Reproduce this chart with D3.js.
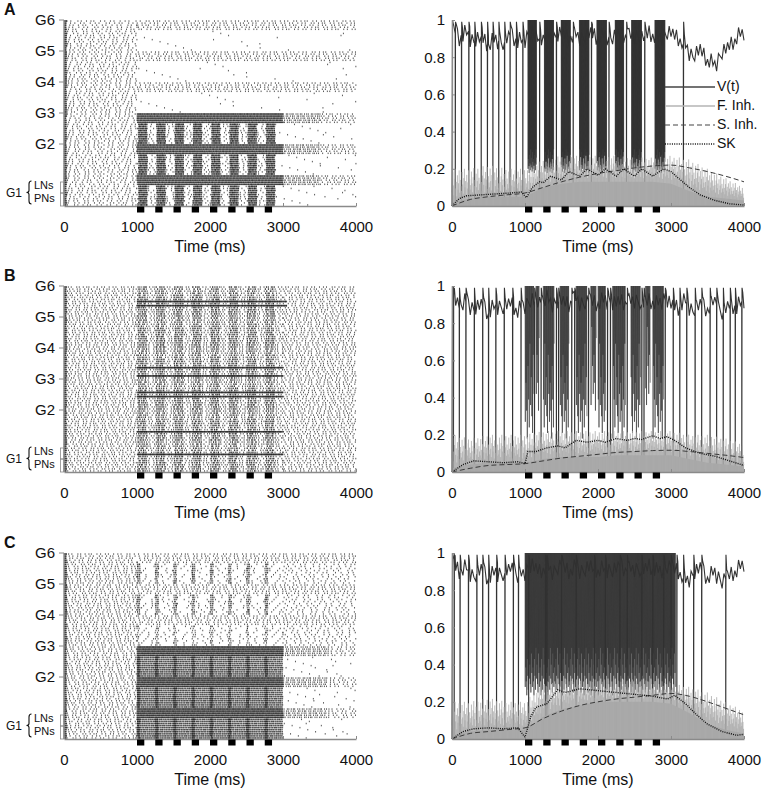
<!DOCTYPE html>
<html>
<head>
<meta charset="utf-8">
<script src="https://cdn.jsdelivr.net/npm/d3@7"></script>
<style>
  body { margin: 0; background: #fff; }
  svg text { font-family: "Liberation Sans", Arial, sans-serif; fill: #111; }
</style>
</head>
<body>
<svg id="fig" width="765" height="794"></svg>
<script>
// ---------- data ----------
var panelNames = ["A", "B", "C"];
var pulseStarts = [1000, 1250, 1500, 1750, 2000, 2250, 2500, 2750];
var pulseLength = 100;
var timeTicks = [0, 1000, 2000, 3000, 4000];
var levelTicks = [0, 0.2, 0.4, 0.6, 0.8, 1];
var groupNames = ["G6", "G5", "G4", "G3", "G2"];
var neuronsPerGroup = 15;   // neurons 0-4 are LNs, 5-14 PNs

var allG = [1, 2, 3, 4, 5, 6], odorG = [1, 2, 3], otherG = [4, 5, 6];

// raster blocks: [groups, first neuron, last neuron, t start, t end, mean ISI (ms)]
var rasterA = [
  [allG, 0, 14, 0, 35, 7],
  [allG, 0, 14, 35, 1000, 65],
  [otherG, 0, 4, 1000, 4000, 55],
  [otherG, 5, 14, 1000, 4000, 1400],
  [odorG, 0, 4, 1000, 3000, 8],
  [odorG, 0, 4, 3000, 3500, 28],
  [odorG, 0, 4, 3500, 4000, 50],
  [odorG, 5, 14, 1000, 2900, 75],
  [odorG, 5, 14, 2900, 4000, 700]
];
var rasterB = [
  [allG, 0, 14, 0, 35, 7],
  [allG, 0, 14, 35, 1000, 50],
  [allG, 0, 14, 1000, 3000, 48],
  [allG, 0, 14, 3000, 4000, 52],
  [[6], 7, 7, 1000, 3050, 7], [[6], 9, 9, 1000, 3050, 7],
  [[4], 9, 9, 1000, 3000, 7], [[4], 13, 13, 1000, 3000, 7],
  [[3], 6, 6, 1000, 3000, 7], [[3], 8, 8, 1000, 3000, 7],
  [[2], 10, 10, 1000, 3000, 7], [[1], 6, 6, 1000, 3000, 7]
];
var rasterC = [
  [allG, 0, 14, 0, 35, 7],
  [allG, 0, 14, 35, 1000, 55],
  [odorG, 0, 4, 1000, 3000, 7],
  [odorG, 0, 4, 3000, 3600, 30],
  [odorG, 0, 4, 3600, 4000, 60],
  [odorG, 5, 14, 1000, 3000, 12],
  [odorG, 5, 14, 3000, 4000, 500],
  [otherG, 0, 4, 1000, 4000, 55],
  [otherG, 5, 14, 1000, 3000, 150],
  [otherG, 5, 14, 3000, 4000, 85]
];
// pulse-locked blocks: [groups, first, last, onset after pulse, offset after pulse, ISI]
var pulseRasterA = [[odorG, 5, 14, 20, 140, 9]];
var pulseRasterB = [[allG, 5, 14, 10, 130, 24], [allG, 0, 4, 10, 130, 32]];
var pulseRasterC = [[[5, 6], 5, 14, 0, 45, 16], [[4], 5, 14, 0, 40, 30], [odorG, 5, 14, 0, 40, 10]];

// V(t) resting level, one value per 100 ms (0..4000)
var hoverA = [0.95, 0.9, 0.93, 0.88, 0.91, 0.86, 0.9, 0.87, 0.92, 0.88, 0.9,
  0.93, 0.9, 0.92, 0.9, 0.93, 0.9, 0.92, 0.9, 0.93, 0.9,
  0.92, 0.9, 0.93, 0.9, 0.92, 0.9, 0.93, 0.9, 0.92,
  0.93, 0.9, 0.86, 0.8, 0.84, 0.78, 0.76, 0.82, 0.86, 0.9, 0.94];
var hoverB = [0.95, 0.88, 0.92, 0.87, 0.9, 0.85, 0.9, 0.88, 0.91, 0.86, 0.9,
  0.92, 0.9, 0.93, 0.9, 0.92, 0.9, 0.93, 0.9, 0.92, 0.9,
  0.93, 0.9, 0.92, 0.9, 0.93, 0.9, 0.92, 0.9, 0.93,
  0.9, 0.88, 0.92, 0.86, 0.9, 0.87, 0.92, 0.85, 0.9, 0.88, 0.93];
var hoverC = [0.95, 0.9, 0.92, 0.87, 0.91, 0.86, 0.9, 0.88, 0.92, 0.87, 0.9,
  0.93, 0.9, 0.92, 0.9, 0.93, 0.9, 0.92, 0.9, 0.93, 0.9,
  0.92, 0.9, 0.93, 0.9, 0.92, 0.9, 0.93, 0.9, 0.92,
  0.92, 0.9, 0.85, 0.88, 0.92, 0.86, 0.9, 0.84, 0.88, 0.9, 0.95];

// times where V(t) drops to ~0 (single spikes)
var dipsA = [45, 130, 230, 310, 400, 485, 560, 640, 720, 795, 880, 970,
  1200, 1430, 1660, 1910, 2150, 2390, 2640, 3170];
var dipsB = [20, 100, 190, 305, 420, 500, 600, 715, 830, 945,
  1130, 1220, 1430, 1460, 1640, 1680, 1870, 2130, 2170, 2400, 2600, 2630, 2920,
  3030, 3120, 3215, 3330, 3420, 3535, 3625, 3715, 3810, 3880, 3970];
var dipsC = [30, 110, 225, 340, 420, 500, 610, 725, 840, 910,
  1050, 1280, 1300, 1500, 1700, 1950, 2100, 2300, 2400, 2600, 2750, 2900, 3000,
  3080, 3170, 3310, 3420, 3750];

// dense firing windows of V(t): [start, end, lowest level, spike period ms]
var burstsA = [[1040, 1160, 0.17, 5], [1265, 1395, 0.17, 5], [1495, 1625, 0.17, 5], [1745, 1880, 0.17, 5],
  [1985, 2120, 0.17, 5], [2235, 2355, 0.17, 5], [2460, 2600, 0.17, 5], [2780, 2920, 0.17, 5]];
var burstsB = [[1000, 1120, 0.15, 9], [1150, 1200, 0.3, 10], [1250, 1400, 0.15, 9], [1480, 1600, 0.15, 9],
  [1700, 1850, 0.15, 9], [1900, 1980, 0.3, 10], [2000, 2100, 0.15, 9], [2200, 2380, 0.15, 9],
  [2450, 2580, 0.15, 9], [2650, 2720, 0.3, 10], [2750, 2900, 0.15, 9]];
var burstsC = [[1000, 3060, 0.22, 7]];

// fast inhibition: envelope and solid floor, one value per 250 ms
var fInhTopA = [0.2, 0.2, 0.22, 0.2, 0.2, 0.25, 0.27, 0.27, 0.27, 0.27, 0.26, 0.26, 0.27, 0.25, 0.2, 0.15, 0.1];
var fInhTopB = [0.2, 0.18, 0.2, 0.2, 0.2, 0.22, 0.22, 0.22, 0.22, 0.22, 0.22, 0.22, 0.22, 0.2, 0.2, 0.18, 0.15];
var fInhTopC = [0.2, 0.2, 0.22, 0.2, 0.2, 0.3, 0.32, 0.32, 0.32, 0.32, 0.32, 0.32, 0.3, 0.28, 0.25, 0.2, 0.15];
var fInhFloorA = [0.02, 0.04, 0.05, 0.05, 0.05, 0.1, 0.12, 0.13, 0.13, 0.13, 0.13, 0.13, 0.12, 0.08, 0.05, 0.04, 0.03];
var fInhFloorB = [0.02, 0.04, 0.05, 0.05, 0.05, 0.07, 0.08, 0.08, 0.08, 0.09, 0.09, 0.09, 0.09, 0.07, 0.05, 0.04, 0.03];
var fInhFloorC = [0.02, 0.04, 0.05, 0.05, 0.05, 0.12, 0.16, 0.18, 0.2, 0.2, 0.2, 0.2, 0.19, 0.14, 0.08, 0.05, 0.03];

// slow inhibition, one value per 250 ms
var sInhA = [0, 0.035, 0.05, 0.06, 0.07, 0.1, 0.13, 0.155, 0.175, 0.19, 0.205, 0.215, 0.22, 0.205, 0.185, 0.16, 0.13];
var sInhB = [0, 0.02, 0.035, 0.04, 0.045, 0.06, 0.075, 0.085, 0.095, 0.105, 0.11, 0.115, 0.117, 0.11, 0.1, 0.09, 0.078];
var sInhC = [0, 0.03, 0.04, 0.05, 0.06, 0.11, 0.15, 0.18, 0.2, 0.215, 0.225, 0.235, 0.245, 0.23, 0.2, 0.165, 0.13];

// SK current [time, value]
var skA = [[0, 0], [100, 0.04], [200, 0.055], [400, 0.06], [600, 0.065], [800, 0.07], [950, 0.075], [1020, 0.045],
  [1100, 0.1], [1200, 0.13], [1250, 0.125], [1350, 0.16], [1500, 0.14], [1600, 0.185], [1750, 0.16], [1850, 0.2],
  [2000, 0.165], [2100, 0.2], [2250, 0.16], [2350, 0.2], [2500, 0.16], [2600, 0.2], [2750, 0.16], [2900, 0.2],
  [3000, 0.185], [3100, 0.15], [3250, 0.1], [3400, 0.06], [3600, 0.03], [3800, 0.012], [4000, 0.005]];
var skB = [[0, 0], [150, 0.04], [300, 0.06], [500, 0.055], [700, 0.05], [900, 0.055], [1000, 0.045], [1040, 0.11],
  [1150, 0.11], [1300, 0.13], [1450, 0.14], [1550, 0.13], [1700, 0.17], [1850, 0.16], [2000, 0.17], [2100, 0.16],
  [2250, 0.18], [2400, 0.17], [2500, 0.18], [2600, 0.175], [2750, 0.195], [2850, 0.18], [2950, 0.19], [3050, 0.17],
  [3200, 0.13], [3400, 0.1], [3600, 0.085], [3800, 0.06], [4000, 0.035]];
var skC = [[0, 0], [150, 0.04], [300, 0.055], [500, 0.06], [700, 0.055], [900, 0.06], [1000, 0.01], [1080, 0.12],
  [1150, 0.17], [1300, 0.19], [1450, 0.265], [1550, 0.25], [1750, 0.27], [2000, 0.26], [2250, 0.25], [2500, 0.24],
  [2750, 0.23], [2950, 0.215], [3050, 0.235], [3200, 0.19], [3350, 0.13], [3500, 0.08], [3700, 0.04], [3900, 0.02],
  [4000, 0.025]];

var legendNames = ["V(t)", "F. Inh.", "S. Inh.", "SK"];

// fixed texture patterns (spike-interval jitter, spike heights, small voltage ripple)
var jitter = [0.6, 1.4, 0.9, 1.2, 0.75, 1.3, 1.05, 0.8, 1.5, 0.7, 1.1, 0.95];
var heightPattern = [0.3, 0.9, 0.5, 0.2, 0.7, 1, 0.4, 0.6, 0.15, 0.8, 0.35, 0.55, 0.95, 0.25, 0.65, 0.45];
var lowPattern = [0.2, 0.55, 0.3, 0.05, 0.7, 0.4, 0.15, 0.9, 0.35, 0.6, 0.25, 0.1, 0.8, 0.45];
var ripple = [0.03, -0.02, 0.04, -0.04, 0.01, -0.03, 0.05, -0.01, 0.02, -0.05, 0.03, 0, -0.03, 0.04, -0.02];

var panels = [
  { name: "A", top: 20, raster: rasterA, pulses: pulseRasterA, hover: hoverA, dips: dipsA, bursts: burstsA,
    fTop: fInhTopA, fFloor: fInhFloorA, sInh: sInhA, sk: skA, legend: true, lowSpread: 0.15 },
  { name: "B", top: 286, raster: rasterB, pulses: pulseRasterB, hover: hoverB, dips: dipsB, bursts: burstsB,
    fTop: fInhTopB, fFloor: fInhFloorB, sInh: sInhB, sk: skB, legend: false, lowSpread: 0.6 },
  { name: "C", top: 553, raster: rasterC, pulses: pulseRasterC, hover: hoverC, dips: dipsC, bursts: burstsC,
    fTop: fInhTopC, fFloor: fInhFloorC, sInh: sInhC, sk: skC, legend: false, lowSpread: 0.3 }
];

// ---------- layout ----------
var plotH = 186;
var leftRange = [64, 356], rightRange = [452, 744];
var axisGrey = "#8a8a8a";
var quarterTimes = d3.range(0, 4001, 250);
var hoverTimes = d3.range(0, 4001, 100);

var svg = d3.select("#fig");

function spikeTimes(t0, t1, isi, seed) {
  var out = [];
  var k = seed;
  var t = t0 + (seed * 17 % Math.max(isi, 1)) * 0.9;
  while (t < t1) {
    out.push(t);
    t += isi * jitter[k % jitter.length];
    k++;
  }
  return out;
}

function drawRaster(p) {
  var g = svg.append("g");
  var x = d3.scaleLinear().domain([0, 4000]).range(leftRange);
  var y = d3.scaleLinear().domain([0, 6 * neuronsPerGroup]).range([p.top, p.top + plotH]);
  var d = [];
  function addTick(t, grp, n) {
    var row = (6 - grp) * neuronsPerGroup + n;
    d.push("M" + x(t).toFixed(2) + "," + (y(row) + 0.3).toFixed(2) + "v1.5");
  }
  p.raster.forEach(function (b, bi) {
    b[0].forEach(function (grp) {
      for (var n = b[1]; n <= b[2]; n++) {
        spikeTimes(b[3], b[4], b[5], n * 7 + grp * 5 + bi).forEach(function (t) { addTick(t, grp, n); });
      }
    });
  });
  p.pulses.forEach(function (b, bi) {
    b[0].forEach(function (grp) {
      for (var n = b[1]; n <= b[2]; n++) {
        pulseStarts.forEach(function (ps, pi) {
          spikeTimes(ps + b[3], ps + b[4], b[5], n * 3 + grp + pi + bi).forEach(function (t) { addTick(t, grp, n); });
        });
      }
    });
  });
  g.append("path").attr("d", d.join("")).attr("stroke", "#222").attr("stroke-width", 0.75).attr("fill", "none");

  // axes
  var xAxis = d3.axisBottom(x).tickValues(timeTicks).tickSizeInner(-3).tickSizeOuter(0).tickPadding(15)
    .tickFormat(d3.format("d"));
  var ax = g.append("g").attr("transform", "translate(0," + (p.top + plotH) + ")").call(xAxis);
  styleAxis(ax);
  g.append("line").attr("x1", leftRange[0]).attr("x2", leftRange[0])
    .attr("y1", p.top).attr("y2", p.top + plotH)
    .attr("stroke", axisGrey).attr("stroke-width", 1.3);

  // group labels with small outward ticks at group boundaries
  groupNames.forEach(function (name, i) {
    var gy = y(i * neuronsPerGroup);
    g.append("line").attr("x1", 59).attr("x2", leftRange[0]).attr("y1", gy).attr("y2", gy)
      .attr("stroke", axisGrey).attr("stroke-width", 1);
    g.append("text").attr("x", 55).attr("y", gy + 1)
      .attr("text-anchor", "end").attr("dominant-baseline", "middle")
      .style("font-size", "15px").text(name);
  });
  var g1Top = y(5 * neuronsPerGroup);
  var g1Bot = p.top + plotH;
  var lnY = g1Top + 11, pnY = g1Top + 24;
  // bracket boxes marking LN and PN rows of G1
  g.append("rect").attr("x", 60.5).attr("y", g1Top + 7).attr("width", 3.5).attr("height", 11)
    .attr("fill", "none").attr("stroke", axisGrey).attr("stroke-width", 0.8);
  g.append("rect").attr("x", 60.5).attr("y", g1Top + 18).attr("width", 3.5).attr("height", g1Bot - g1Top - 18)
    .attr("fill", "none").attr("stroke", axisGrey).attr("stroke-width", 0.8);
  g.append("text").attr("x", 6).attr("y", (lnY + pnY) / 2 + 1).attr("dominant-baseline", "middle")
    .style("font-size", "12px").text("G1");
  // curly brace drawn as a path
  var bx = 29, bt = lnY - 5, bb = pnY + 5, mid = (lnY + pnY) / 2;
  g.append("path")
    .attr("d", "M" + (bx + 2.5) + "," + bt + " Q" + bx + "," + bt + " " + bx + "," + (bt + 3) +
      " V" + (mid - 2) + " Q" + bx + "," + mid + " " + (bx - 2.5) + "," + mid +
      " Q" + bx + "," + mid + " " + bx + "," + (mid + 2) +
      " V" + (bb - 3) + " Q" + bx + "," + bb + " " + (bx + 2.5) + "," + bb)
    .attr("fill", "none").attr("stroke", "#111").attr("stroke-width", 1.1);
  g.append("text").attr("x", 34).attr("y", lnY).attr("dominant-baseline", "middle")
    .style("font-size", "11px").text("LNs");
  g.append("text").attr("x", 34).attr("y", pnY).attr("dominant-baseline", "middle")
    .style("font-size", "11px").text("PNs");

  drawStimulus(g, x, p.top + plotH);
  g.append("text").attr("x", (leftRange[0] + leftRange[1]) / 2).attr("y", p.top + plotH + 46)
    .attr("text-anchor", "middle").style("font-size", "16px").text("Time (ms)");
}

function styleAxis(ax) {
  ax.select(".domain").attr("stroke", axisGrey).attr("stroke-width", 1.3);
  ax.selectAll(".tick line").attr("stroke", axisGrey);
  ax.selectAll(".tick text").style("font-size", "15px")
    .style("font-family", "Liberation Sans, Arial, sans-serif").attr("fill", "#111");
}

function drawStimulus(g, x, yBase) {
  g.selectAll(null).data(pulseStarts).enter().append("rect")
    .attr("x", function (d) { return x(d); })
    .attr("width", function (d) { return x(d + pulseLength) - x(d); })
    .attr("y", yBase + 0.5).attr("height", 6).attr("fill", "#000");
}

function drawTraces(p) {
  var g = svg.append("g");
  var x = d3.scaleLinear().domain([0, 4000]).range(rightRange);
  var y = d3.scaleLinear().domain([0, 1]).range([p.top + plotH, p.top]);
  var hoverFn = d3.scaleLinear().domain(hoverTimes).range(p.hover);
  var topFn = d3.scaleLinear().domain(quarterTimes).range(p.fTop);
  var floorFn = d3.scaleLinear().domain(quarterTimes).range(p.fFloor);
  var line = d3.line().x(function (d) { return x(d[0]); }).y(function (d) { return y(d[1]); });

  // V(t): resting level with ripple, single-spike dips
  var pts = [[0, 0], [6, 1]];
  var ri = 0;
  for (var tt = 25; tt <= 4000; tt += 25) {
    pts.push([tt, Math.min(1, hoverFn(tt) + ripple[ri % ripple.length])]);
    ri++;
  }
  p.dips.forEach(function (td) {
    var h = hoverFn(td);
    pts = pts.filter(function (q) { return !(q[0] > td - 2 && q[0] < td + 14); });
    pts.push([td - 1, h], [td, 0.01], [td + 3, 0.99], [td + 13, Math.min(h + 0.05, 1)]);
  });
  pts.sort(function (a, b) { return a[0] - b[0]; });
  g.append("path").attr("d", line(pts)).attr("fill", "none").attr("stroke", "#333").attr("stroke-width", 1.1);

  var burstPts = [];
  var k = 0;
  p.bursts.forEach(function (b) {
    var seg = [];
    for (var t = b[0]; t < b[1]; t += b[3]) {
      seg.push([t, 1], [t + b[3] / 2, b[2] + lowPattern[k % lowPattern.length] * p.lowSpread]);
      k++;
    }
    burstPts.push(seg);
  });
  g.selectAll(null).data(burstPts).enter().append("path")
    .attr("d", line).attr("fill", "none").attr("stroke", "#303030").attr("stroke-width", 0.6);

  // fast inhibition
  var area = d3.area().x(function (d) { return x(d); }).y0(y(0)).y1(function (d) { return y(floorFn(d)); });
  g.append("path").attr("d", area(quarterTimes)).attr("fill", "#a9a9a9");
  var fd = [];
  var j = 0;
  for (var t = 2; t < 4000; t += 8) {
    var lo = floorFn(t), hi = topFn(t);
    var h = lo + (hi - lo) * heightPattern[j % heightPattern.length];
    fd.push("M" + x(t).toFixed(2) + "," + y(0).toFixed(2) + "V" + y(h).toFixed(2));
    j++;
  }
  g.append("path").attr("d", fd.join("")).attr("stroke", "#a9a9a9").attr("stroke-width", 0.8).attr("fill", "none");

  // slow inhibition and SK
  g.append("path").attr("d", line.curve(d3.curveMonotoneX)(quarterTimes.map(function (t, i) { return [t, p.sInh[i]]; })))
    .attr("fill", "none").attr("stroke", "#3a3a3a").attr("stroke-width", 1).attr("stroke-dasharray", "5,3");
  g.append("path").attr("d", line.curve(d3.curveLinear)(p.sk))
    .attr("fill", "none").attr("stroke", "#111").attr("stroke-width", 1.4).attr("stroke-dasharray", "1,1.2");

  // axes
  var xAxis = d3.axisBottom(x).tickValues(timeTicks).tickSizeInner(-3).tickSizeOuter(0).tickPadding(15)
    .tickFormat(d3.format("d"));
  styleAxis(g.append("g").attr("transform", "translate(0," + (p.top + plotH) + ")").call(xAxis));
  var yAxis = d3.axisLeft(y).tickValues(levelTicks).tickSizeInner(-3).tickSizeOuter(0).tickPadding(7)
    .tickFormat(function (d) { return String(d); });
  styleAxis(g.append("g").attr("transform", "translate(" + rightRange[0] + ",0)").call(yAxis));

  drawStimulus(g, x, p.top + plotH);
  g.append("text").attr("x", (rightRange[0] + rightRange[1]) / 2).attr("y", p.top + plotH + 46)
    .attr("text-anchor", "middle").style("font-size", "16px").text("Time (ms)");

  if (p.legend) {
    var styles = [
      { stroke: "#444", dash: null, w: 1.4 },
      { stroke: "#b5b5b5", dash: null, w: 1.4 },
      { stroke: "#444", dash: "5,3", w: 1.1 },
      { stroke: "#111", dash: "1,1.3", w: 1.3 }
    ];
    legendNames.forEach(function (name, i) {
      var ly = p.top + 67 + i * 19;
      g.append("line").attr("x1", 665).attr("x2", 715).attr("y1", ly).attr("y2", ly)
        .attr("stroke", styles[i].stroke).attr("stroke-width", styles[i].w)
        .attr("stroke-dasharray", styles[i].dash);
      g.append("text").attr("x", 717).attr("y", ly).attr("dominant-baseline", "middle")
        .style("font-size", "14px").text(name);
    });
  }
}

panels.forEach(function (p) {
  drawRaster(p);
  drawTraces(p);
  svg.append("text").attr("x", 4).attr("y", p.top - 5).style("font-size", "16px").style("font-weight", "bold").text(p.name);
});
</script>
</body>
</html>
